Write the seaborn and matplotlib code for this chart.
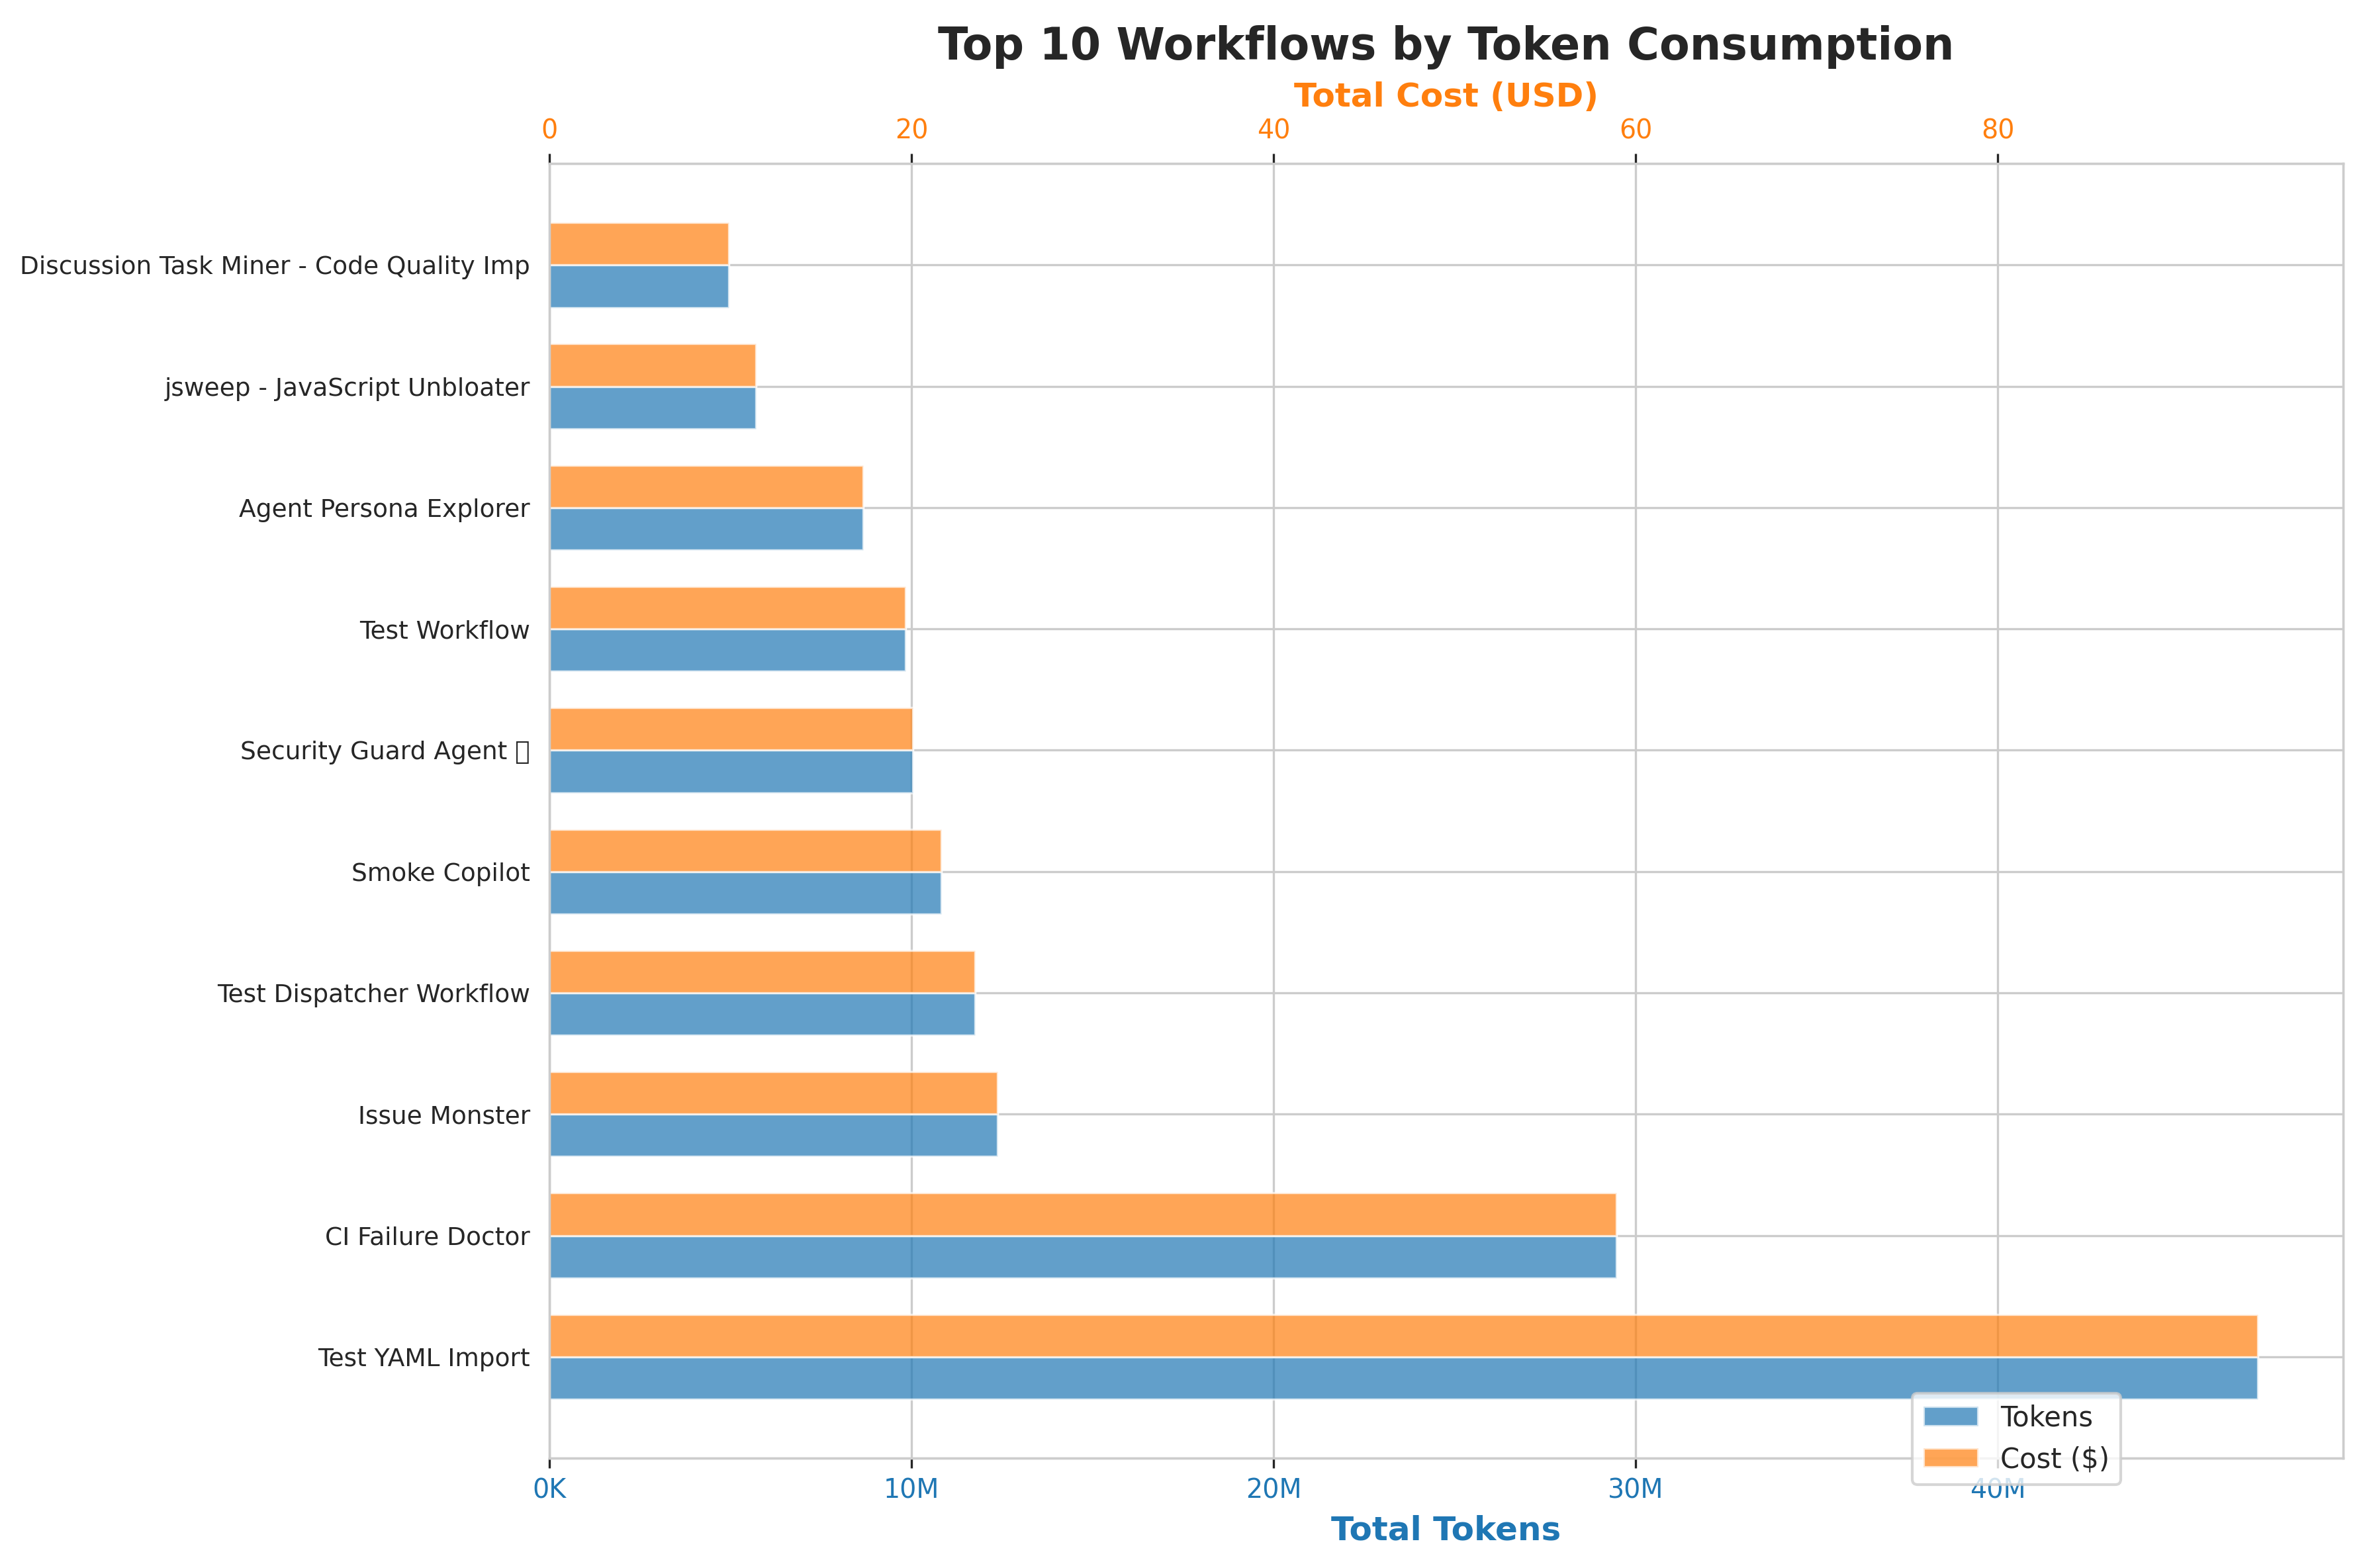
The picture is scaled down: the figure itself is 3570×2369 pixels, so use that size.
import matplotlib
matplotlib.use("Agg")
import matplotlib.pyplot as plt
import matplotlib.patches as mpatches
import matplotlib.ticker as mticker
import seaborn as sns
import pandas as pd
import numpy as np

# data (top to bottom)
workflows = ["Discussion Task Miner - Code Quality Imp",
             "jsweep - JavaScript Unbloater",
             "Agent Persona Explorer",
             "Test Workflow",
             "Security Guard Agent \U0001F6E1",
             "Smoke Copilot",
             "Test Dispatcher Workflow",
             "Issue Monster",
             "CI Failure Doctor",
             "Test YAML Import"]
tokens = [4.96e6, 5.71e6, 8.67e6, 9.83e6, 10.04e6, 10.83e6, 11.75e6, 12.38e6, 29.46e6, 47.18e6]
cost = [9.92, 11.42, 17.34, 19.66, 20.08, 21.66, 23.50, 24.76, 58.92, 94.36]

BLUE = "#1f77b4"
ORANGE = "#ff7f0e"
pal = {"Tokens": BLUE, "Cost ($)": ORANGE}
hue_levels = ["Cost ($)", "Tokens"]

sns.set_theme(style="whitegrid", rc={"axes.edgecolor": "#cccccc", "axes.linewidth": 0.8,
                                     "grid.color": "#cccccc", "grid.linewidth": 0.8})
# fallback list so the shield sign can come from another family if one has it
plt.rcParams["font.family"] = ["DejaVu Sans", "Noto Sans", "Noto Sans CJK JP",
                               "Noto Sans CJK SC", "Liberation Sans"]

df_tok = pd.DataFrame({"workflow": workflows, "value": tokens, "metric": "Tokens"})
df_cost = pd.DataFrame({"workflow": workflows, "value": cost, "metric": "Cost ($)"})

fig = plt.figure(figsize=(11.9, 2369 / 300))
ax1 = fig.add_axes([0.2325, 0.0701, 0.9916 - 0.2325, 0.8956 - 0.0701])
ax2 = ax1.twiny()

bar_kw = dict(x="value", y="workflow", hue="metric", hue_order=hue_levels, palette=pal,
              orient="h", dodge=True, width=0.7, saturation=1, alpha=0.7,
              edgecolor="white", linewidth=0.8, legend=False, errorbar=None)
sns.barplot(data=df_tok, ax=ax1, **bar_kw)
sns.barplot(data=df_cost, ax=ax2, **bar_kw)

ax1.set_ylim(len(workflows) - 1 + 0.835, -0.835)
ax1.set_xlim(0, max(tokens) * 1.05)
ax2.set_xlim(0, max(cost) * 1.05)

ax1.xaxis.set_major_locator(mticker.MultipleLocator(10e6))
ax1.xaxis.set_major_formatter(mticker.FuncFormatter(
    lambda v, p: f"{v/1e6:.0f}M" if v >= 1e6 else f"{v/1e3:.0f}K"))
ax2.xaxis.set_major_locator(mticker.MultipleLocator(20))

ax1.grid(True, axis="both")
ax1.set_axisbelow(True)
ax2.grid(False)

ax1.set_ylabel("")
ax1.set_xlabel("Total Tokens", fontsize=12, fontweight="bold", color=BLUE)
ax2.set_xlabel("Total Cost (USD)", fontsize=12, fontweight="bold", color=ORANGE)

ax1.tick_params(axis="x", bottom=True, length=3.5, width=0.8, color="#262626",
                labelcolor=BLUE, labelsize=9.5)
ax2.tick_params(axis="x", top=True, length=3.5, width=0.8, color="#262626",
                labelcolor=ORANGE, labelsize=9.5)
ax1.tick_params(axis="y", left=False, length=0, pad=7, labelsize=9, labelcolor="#262626")

for ax in (ax1, ax2):
    for s in ax.spines.values():
        s.set_color("#cccccc")
        s.set_linewidth(0.8)

ax1.set_title("Top 10 Workflows by Token Consumption", fontsize=16, fontweight="bold",
              color="#262626", pad=8)

handles = [mpatches.Patch(facecolor=BLUE, alpha=0.7, edgecolor="white", label="Tokens"),
           mpatches.Patch(facecolor=ORANGE, alpha=0.7, edgecolor="white", label="Cost ($)")]
ax2.legend(handles=handles, loc="lower right", bbox_to_anchor=(0.876, -0.0205),
           borderaxespad=0, fontsize=10, frameon=True, fancybox=True)

fig.savefig("out.png", dpi=300)
